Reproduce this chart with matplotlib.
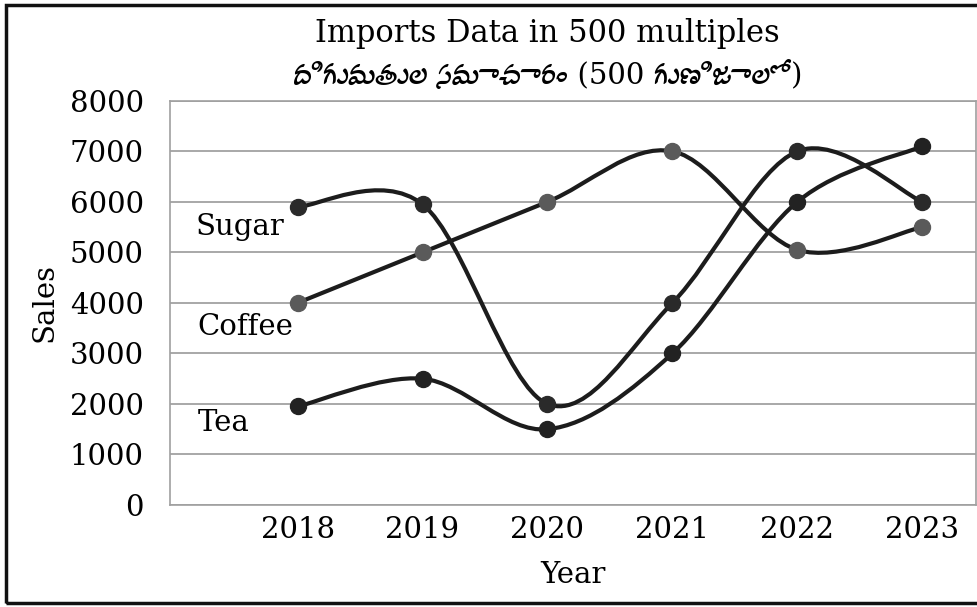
import matplotlib
matplotlib.use('Agg')
import matplotlib.pyplot as plt
from matplotlib import font_manager
from matplotlib.ft2font import FT2Font
from matplotlib.path import Path
from matplotlib.patches import PathPatch, Rectangle
import numpy as np

years = [2018, 2019, 2020, 2021, 2022, 2023]
sugar = [5900, 5950, 2000, 4000, 7000, 6000]
coffee = [4000, 5000, 6000, 7000, 5050, 5500]
tea = [1950, 2500, 1500, 3000, 6000, 7100]
yticks = [0, 1000, 2000, 3000, 4000, 5000, 6000, 7000, 8000]

title1 = "Imports Data in 500 multiples"
title2 = "దిగుమతుల సమాచారం (500 గుణిజాలో)"

serif = ['DejaVu Serif', 'Liberation Serif']
plt.rcParams['font.family'] = serif

# look for any installed font that can draw Telugu
telugu = []
for f in font_manager.fontManager.ttflist:
    try:
        if 0x0C26 in FT2Font(f.fname).get_charmap():
            telugu.append(f.name)
    except Exception:
        pass
title2_family = ['DejaVu Serif'] + sorted(set(telugu)) + ['DejaVu Sans']


def smooth_path(xs, ys):
    # catmull-rom style bezier, like Excel's "smoothed line"
    pts = np.column_stack([xs, ys]).astype(float)
    n = len(pts)
    verts = [pts[0]]
    codes = [Path.MOVETO]
    for i in range(n - 1):
        p0 = pts[i - 1] if i > 0 else pts[i]
        p1 = pts[i]
        p2 = pts[i + 1]
        p3 = pts[i + 2] if i + 2 < n else pts[i + 1]
        c1 = p1 + (p2 - p0) / 6
        c2 = p2 - (p3 - p1) / 6
        verts += [c1, c2, p2]
        codes += [Path.CURVE4] * 3
    return Path(verts, codes)


fig = plt.figure(figsize=(9.78, 6.07), dpi=100)
ax = fig.add_axes([0.174, 0.168, 0.824, 0.666])

series = [(sugar, '#2a2a2a'), (coffee, '#5a5a5a'), (tea, '#222222')]
for vals, mcol in series:
    ax.add_patch(PathPatch(smooth_path(years, vals), facecolor='none',
                           edgecolor='#1c1c1c', lw=3, zorder=3))
    ax.plot(years, vals, 'o', color=mcol, markersize=11.5, zorder=4)

ax.set_xlim(2016.98, 2023.43)
ax.set_ylim(0, 8000)
ax.set_yticks(yticks)
ax.set_xticks(years)
ax.yaxis.grid(True, color='#9a9a9a', lw=1.2)
ax.set_axisbelow(True)
for s in ax.spines.values():
    s.set_color('#a0a0a0')
    s.set_linewidth(1.2)
ax.tick_params(length=0, labelsize=21)
ax.tick_params(axis='y', pad=19)
ax.tick_params(axis='x', pad=8)
ax.set_ylabel("Sales", fontsize=21, labelpad=8)
ax.set_xlabel("Year", fontsize=21, labelpad=12)

ax.text(2017.18, 5500, "Sugar", fontsize=21, va='center', ha='left')
ax.text(2017.2, 3520, "Coffee", fontsize=21, va='center', ha='left')
ax.text(2017.2, 1620, "Tea", fontsize=21, va='center', ha='left')

fig.text(0.56, 0.945, title1, fontsize=22, ha='center', va='center')
fig.text(0.56, 0.876, title2, fontsize=21, ha='center', va='center',
         family=title2_family)

fig.add_artist(Rectangle((0.006, 0.007), 1.0, 0.985, transform=fig.transFigure,
                         fill=False, lw=2.5, edgecolor='#111111'))

fig.savefig('out.png', dpi=100)
